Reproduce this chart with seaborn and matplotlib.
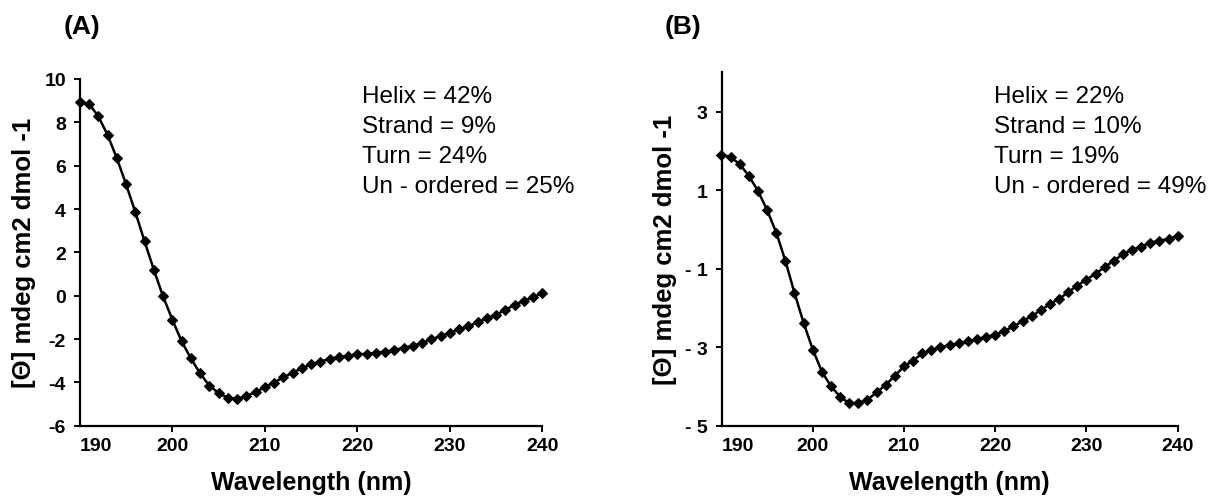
import numpy as np
import pandas as pd
import matplotlib
matplotlib.use("Agg")
import matplotlib.pyplot as plt
import seaborn as sns

wavelength = [190, 191, 192, 193, 194, 195, 196, 197, 198, 199,
              200, 201, 202, 203, 204, 205, 206, 207, 208, 209,
              210, 211, 212, 213, 214, 215, 216, 217, 218, 219,
              220, 221, 222, 223, 224, 225, 226, 227, 228, 229,
              230, 231, 232, 233, 234, 235, 236, 237, 238, 239, 240]

theta_a = [8.95, 8.85, 8.28, 7.42, 6.35, 5.14, 3.86, 2.51, 1.20, -0.03,
           -1.10, -2.10, -2.89, -3.58, -4.15, -4.49, -4.71, -4.77, -4.63, -4.46,
           -4.21, -4.01, -3.77, -3.55, -3.36, -3.17, -3.04, -2.92, -2.82, -2.78,
           -2.70, -2.69, -2.64, -2.58, -2.51, -2.40, -2.31, -2.18, -2.02, -1.86,
           -1.72, -1.55, -1.41, -1.23, -1.04, -0.88, -0.65, -0.43, -0.23, -0.07, 0.12]

theta_b = [1.90, 1.84, 1.66, 1.36, 0.98, 0.49, -0.08, -0.80, -1.62, -2.38,
           -3.06, -3.62, -4.00, -4.26, -4.43, -4.42, -4.34, -4.15, -3.96, -3.73,
           -3.49, -3.34, -3.16, -3.07, -3.00, -2.95, -2.90, -2.85, -2.80, -2.74,
           -2.68, -2.59, -2.47, -2.34, -2.21, -2.06, -1.90, -1.77, -1.60, -1.43,
           -1.28, -1.13, -0.96, -0.80, -0.63, -0.52, -0.44, -0.34, -0.29, -0.24, -0.17]

x_ticks = [190, 200, 210, 220, 230, 240]
y_ticks_a = [-6, -4, -2, 0, 2, 4, 6, 8, 10]
y_labels_a = ["-6", "-4", "-2", "0", "2", "4", "6", "8", "10"]
y_ticks_b = [-5, -3, -1, 1, 3]
y_labels_b = ["- 5", "- 3", "- 1", "1", "3"]

notes_a = ["Helix = 42%", "Strand = 9%", "Turn = 24%", "Un - ordered = 25%"]
notes_b = ["Helix = 22%", "Strand = 10%", "Turn = 19%", "Un - ordered = 49%"]

sns.set_style("white")
plt.rcParams['font.family'] = ['Liberation Sans', 'DejaVu Sans']
plt.rcParams['text.color'] = 'black'
plt.rcParams['axes.labelcolor'] = 'black'
plt.rcParams['xtick.color'] = 'black'
plt.rcParams['ytick.color'] = 'black'

fig = plt.figure(figsize=(12.2, 5.02), dpi=100)
W, H = 1220, 502

def px_axes(left, top, right, bottom):
    return fig.add_axes([left / W, (H - bottom) / H, (right - left) / W, (bottom - top) / H])

ax_a = px_axes(79.8, 80, 542.3, 426.7)
ax_b = px_axes(721.5, 73.3, 1177.7, 426.7)

df_a = pd.DataFrame({"wl": wavelength, "v": theta_a})
df_b = pd.DataFrame({"wl": wavelength, "v": theta_b})

panels = [
    (ax_a, df_a, (-6, 10), y_ticks_a, y_labels_a, notes_a, 361.7, "(A)", 82),
    (ax_b, df_b, (-5, 4), y_ticks_b, y_labels_b, notes_b, 994.0, "(B)", 683),
]

for ax, df, ylim, yt, yl, notes, note_x, tag, tag_x in panels:
    sns.lineplot(data=df, x="wl", y="v", ax=ax, color="black", linewidth=1.8,
                 marker="D", markersize=5.5, markeredgecolor="black",
                 markerfacecolor="black", clip_on=False)
    ax.set_xlim(190, 240)
    ax.set_ylim(*ylim)
    ax.set_xticks(x_ticks)
    ax.set_xticklabels([str(t) for t in x_ticks])
    ax.set_yticks(yt)
    ax.set_yticklabels(yl)
    for s in ["top", "right"]:
        ax.spines[s].set_visible(False)
    for s in ["left", "bottom"]:
        ax.spines[s].set_linewidth(1.6)
        ax.spines[s].set_color("black")
    ax.tick_params(axis="both", direction="out", length=4, width=1.4, color="black",
                   labelcolor="black", labelsize=14, pad=4, bottom=True, left=True)
    ax.tick_params(axis="y", pad=6)
    for lab in ax.get_xticklabels() + ax.get_yticklabels():
        lab.set_fontweight("bold")
    ax.xaxis.get_major_ticks()[0].tick1line.set_visible(False)
    ax.get_xticklabels()[0].set_horizontalalignment("left")
    ax.set_xlabel("Wavelength (nm)", fontsize=18, fontweight="bold", labelpad=12, color="black")
    ax.set_ylabel("[Θ] mdeg cm2 dmol -1", fontsize=18.5, fontweight="bold", labelpad=6, color="black")
    for i, note in enumerate(notes):
        fig.text(note_x / W, (H - (103.3 + 30 * i)) / H, note, fontsize=17.5,
                 ha="left", va="baseline", color="black")
    fig.text(tag_x / W, (H - 27) / H, tag, fontsize=19, fontweight="bold",
             ha="center", va="center", color="black")

fig.savefig("out.png", dpi=100)
